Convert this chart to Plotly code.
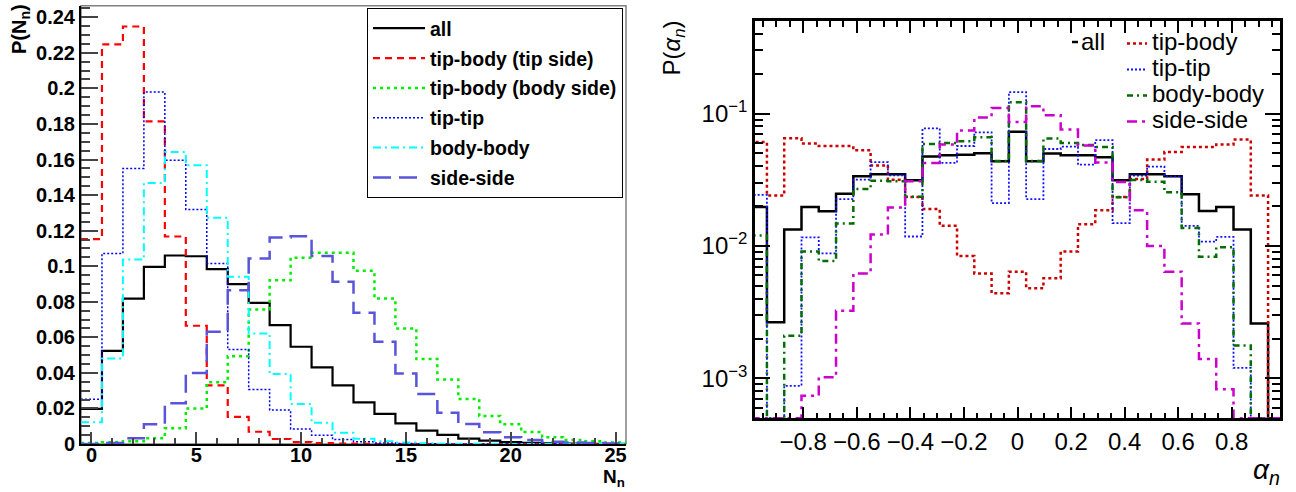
import numpy as np
import plotly.graph_objects as go

W, H = 1296, 492

# ---------------- left panel: P(N_n), one bin per integer N_n ----------------
n_values = list(range(26))
p_all = [0.0197, 0.0524, 0.0818, 0.0996, 0.1060, 0.1056, 0.0983, 0.0899, 0.0794, 0.0669,
         0.0547, 0.0431, 0.0330, 0.0234, 0.0169, 0.0116, 0.0075, 0.0051, 0.0030, 0.0019,
         0.0011, 0.0006, 0.0003, 0.0002, 0.0001, 0.0001]
p_tip_side = [0.1152, 0.2247, 0.2348, 0.1815, 0.1167, 0.0665, 0.0330, 0.0153, 0.0069, 0.0028,
              0.0011, 0.0005, 0.0002, 0.0001, 0.0, 0.0, 0.0, 0.0, 0.0, 0.0,
              0.0, 0.0, 0.0, 0.0, 0.0, 0.0]
p_body_side = [0.0005, 0.0010, 0.0015, 0.0032, 0.0088, 0.0200, 0.0347, 0.0494, 0.0757, 0.0921,
               0.1048, 0.1075, 0.1075, 0.0974, 0.0818, 0.0650, 0.0478, 0.0363, 0.0253, 0.0157,
               0.0111, 0.0067, 0.0038, 0.0022, 0.0015, 0.0008]
p_tip_tip = [0.0251, 0.1071, 0.1549, 0.1979, 0.1596, 0.1319, 0.1015, 0.0532, 0.0307, 0.0191,
             0.0084, 0.0049, 0.0025, 0.0012, 0.0006, 0.0003, 0.0001, 0.0, 0.0, 0.0,
             0.0, 0.0, 0.0, 0.0, 0.0, 0.0]
p_body_body = [0.0122, 0.0481, 0.1037, 0.1468, 0.1642, 0.1567, 0.1273, 0.0940, 0.0622, 0.0393,
               0.0225, 0.0120, 0.0063, 0.0030, 0.0015, 0.0008, 0.0004, 0.0002, 0.0001, 0.0,
               0.0, 0.0, 0.0, 0.0, 0.0, 0.0]
p_side_side = [0.0000, 0.0005, 0.0032, 0.0111, 0.0229, 0.0400, 0.0631, 0.0865, 0.1043, 0.1161,
               0.1169, 0.1058, 0.0912, 0.0738, 0.0575, 0.0397, 0.0281, 0.0176, 0.0112, 0.0066,
               0.0038, 0.0022, 0.0013, 0.0008, 0.0005, 0.0003]
n_ticks = [0, 5, 10, 15, 20, 25]
p_ticks = [0, 0.02, 0.04, 0.06, 0.08, 0.1, 0.12, 0.14, 0.16, 0.18, 0.2, 0.22, 0.24]
p_tick_text = ["0", "0.02", "0.04", "0.06", "0.08", "0.1", "0.12", "0.14", "0.16", "0.18",
               "0.2", "0.22", "0.24"]

# ---------------- right panel: P(alpha_n), 31 bins on [-1, 1] ----------------
alpha_nbins = 31
a_all = [0.0197, 0.00266, 0.0133, 0.0197, 0.0183, 0.0248, 0.0336, 0.0348, 0.0348, 0.0313,
         0.0475, 0.0484, 0.0488, 0.0501, 0.0437, 0.0730, 0.0437, 0.0499, 0.0485, 0.0484,
         0.0468, 0.0313, 0.0348, 0.0348, 0.0336, 0.0246, 0.0184, 0.0197, 0.0133, 0.0026, 0.0]
a_tip_body = [0.0610, 0.0241, 0.0650, 0.0593, 0.0569, 0.0569, 0.0528, 0.0406, 0.0316, 0.0234,
              0.0190, 0.0142, 0.0084, 0.0062, 0.0044, 0.0064, 0.0048, 0.0057, 0.0091, 0.0146,
              0.0186, 0.0234, 0.0320, 0.0449, 0.0513, 0.0560, 0.0560, 0.0583, 0.0636, 0.0241, 0.0]
a_tip_tip = [0.0243, 0.0, 0.00088, 0.0116, 0.0088, 0.0226, 0.0317, 0.0430, 0.0342, 0.0118,
             0.0772, 0.0424, 0.0569, 0.0722, 0.0211, 0.1450, 0.0226, 0.0540, 0.0562, 0.0411,
             0.0630, 0.0149, 0.0340, 0.0398, 0.0336, 0.0142, 0.0108, 0.0117, 0.0012, 0.0, 0.0]
a_body_body = [0.0120, 0.0, 0.0021, 0.0091, 0.0077, 0.0148, 0.0269, 0.0311, 0.0308, 0.0235,
               0.0590, 0.0600, 0.0618, 0.0662, 0.0438, 0.1218, 0.0438, 0.0648, 0.0600, 0.0580,
               0.0560, 0.0233, 0.0315, 0.0306, 0.0255, 0.0137, 0.0083, 0.0098, 0.00177, 0.0, 0.0]
a_side_side = [0.0, 0.0, 0.0, 0.00074, 0.00102, 0.00324, 0.0062, 0.0122, 0.0195, 0.0308,
               0.0424, 0.0584, 0.0744, 0.0933, 0.1100, 0.0864, 0.1136, 0.0970, 0.0757, 0.0575,
               0.0427, 0.0304, 0.0186, 0.0100, 0.0064, 0.0026, 0.0014, 0.00083, 0.0, 0.0, 0.0]
a_ticks = [-0.8, -0.6, -0.4, -0.2, 0, 0.2, 0.4, 0.6, 0.8]
a_tick_text = ["\u22120.8", "\u22120.6", "\u22120.4", "\u22120.2", "0", "0.2", "0.4", "0.6", "0.8"]
pa_ticks = [1e-3, 1e-2, 1e-1]
pa_tick_text = ["10<sup>\u22123</sup>", "10<sup>\u22122</sup>", "10<sup>\u22121</sup>"]
PA_MIN, PA_MAX = 5e-4, 0.5


def step_xy(edges, vals, floor=None):
    """Histogram outline: left edge of each bin, then the closing right edge."""
    v = np.asarray(vals, dtype=float)
    if floor is not None:
        v = np.maximum(v, floor)
    return list(edges), list(v) + [v[-1]]


def px_x(p):
    return p / W


def px_y(p):
    return 1 - p / H


FONT = "Liberation Sans"
fig = go.Figure()

# ---- left panel histograms
n_edges = np.arange(len(n_values) + 1) - 0.5
left_series = [
    ("all", p_all, dict(color="black", width=2.2)),
    ("tip-body (tip side)", p_tip_side, dict(color="#ff0000", width=2.2, dash="7px,5px")),
    ("tip-body (body side)", p_body_side, dict(color="#00ee00", width=2.5, dash="3px,4px")),
    ("tip-tip", p_tip_tip, dict(color="#0000ff", width=1.5, dash="2px,2px")),
    ("body-body", p_body_body, dict(color="#00ffff", width=2, dash="8px,4px,2px,4px")),
    ("side-side", p_side_side, dict(color="rgb(89,84,217)", width=2.5, dash="18px,8px")),
]
for name, vals, style in left_series:
    x, y = step_xy(n_edges, vals)
    fig.add_trace(go.Scatter(x=x, y=y, mode="lines", name=name, legendgroup=name,
                             line=dict(shape="hv", **style), xaxis="x", yaxis="y",
                             hoverinfo="skip"))

# ---- right panel histograms
a_edges = np.linspace(-1, 1, alpha_nbins + 1)
right_series = [
    ("all", a_all, dict(color="black", width=2.5)),
    ("tip-body", a_tip_body, dict(color="rgb(204,0,0)", width=2.5, dash="3px,3px")),
    ("tip-tip", a_tip_tip, dict(color="#1010ff", width=1.8, dash="2px,2px")),
    ("body-body", a_body_body, dict(color="rgb(0,110,0)", width=2.5, dash="6px,4px,2px,4px")),
    ("side-side", a_side_side, dict(color="rgb(204,0,204)", width=2.5, dash="10px,5px,3px,5px")),
]
for name, vals, style in right_series:
    x, y = step_xy(a_edges, vals, floor=PA_MIN)
    fig.add_trace(go.Scatter(x=x, y=y, mode="lines", name=name, showlegend=False,
                             line=dict(shape="hv", **style), xaxis="x2", yaxis="y2",
                             hoverinfo="skip"))

bold = dict(family=FONT, size=20, color="black", weight="bold")
plain = dict(family=FONT, size=24, color="black")

fig.update_layout(
    template="none",
    width=W, height=H, margin=dict(l=0, r=0, t=0, b=0, autoexpand=False),
    paper_bgcolor="white", plot_bgcolor="white",
    xaxis=dict(domain=[px_x(81), px_x(626)], range=[-0.5, 25.5], anchor="y", automargin=False,
               showline=True, linecolor="black", linewidth=2, showgrid=False, zeroline=False,
               ticks="inside", ticklen=12, tickwidth=1.5, tickcolor="#444",
               ticklabelstandoff=-8,
               tickvals=n_ticks, ticktext=[str(t) for t in n_ticks], tickfont=bold,
               minor=dict(dtick=1, tick0=0, ticks="inside", ticklen=6, tickwidth=1.5,
                          tickcolor="#444")),
    yaxis=dict(domain=[px_y(444), px_y(5.7)], range=[0, 0.2465], anchor="x", automargin=False,
               showline=True, linecolor="black", linewidth=2, showgrid=False, zeroline=False,
               ticks="inside", ticklen=17, tickwidth=1.5, tickcolor="#444",
               tickvals=p_ticks, ticktext=p_tick_text, tickfont=bold,
               minor=dict(dtick=0.005, tick0=0, ticks="inside", ticklen=9, tickwidth=1.5,
                          tickcolor="#444")),
    xaxis2=dict(domain=[px_x(755), px_x(1280)], range=[-0.98, 0.98], anchor="y2",
                automargin=False,
                showline=True, linecolor="black", linewidth=2.5, mirror="ticks",
                showgrid=False, zeroline=False,
                ticks="inside", ticklen=12, tickwidth=2, tickcolor="black",
                tickvals=a_ticks, ticktext=a_tick_text, tickfont=plain,
                minor=dict(dtick=0.05, tick0=0, ticks="inside", ticklen=6, tickwidth=2,
                           tickcolor="black")),
    yaxis2=dict(domain=[px_y(418.3), px_y(21)], type="log", automargin=False,
                range=[np.log10(PA_MIN), np.log10(PA_MAX)], anchor="x2",
                showline=True, linecolor="black", linewidth=2.5, mirror="ticks",
                showgrid=False, zeroline=False,
                ticks="inside", ticklen=15, tickwidth=2, tickcolor="black",
                tickvals=pa_ticks, ticktext=pa_tick_text, tickfont=plain,
                minor=dict(tickvals=[k * 10.0 ** e for e in (-4, -3, -2, -1) for k in range(2, 10)],
                           ticks="inside", ticklen=8, tickwidth=2, tickcolor="black")),
    legend=dict(x=px_x(367), y=px_y(8), xanchor="left", yanchor="top",
                bgcolor="white", bordercolor="black", borderwidth=1,
                font=dict(family=FONT, size=19.5, color="black", weight="bold"),
                tracegroupgap=1.5, traceorder="grouped", itemwidth=52),
)

# grey frame around the left panel (top and right edges)
shapes = [dict(type="rect", xref="x domain", yref="y domain", x0=0, x1=1, y0=0, y1=1,
               line=dict(color="#808080", width=1.5), layer="below")]

# right-panel key: short line samples next to the labels
key_rows = [
    ("tip-body", 41.5, 43.5, right_series[1][2]),
    ("tip-tip", 67.5, 69.5, right_series[2][2]),
    ("body-body", 93.5, 95.5, right_series[3][2]),
    ("side-side", 119.5, 121.5, right_series[4][2]),
]
annotations = []
for label, ty, ly, style in key_rows:
    shapes.append(dict(type="line", xref="paper", yref="paper",
                       x0=px_x(1127), x1=px_x(1147), y0=px_y(ly), y1=px_y(ly),
                       line=dict(color=style["color"], width=style["width"],
                                 dash=style.get("dash", "solid"))))
    annotations.append(dict(text=label, xref="paper", yref="paper", x=px_x(1150), y=px_y(ty),
                            xanchor="left", yanchor="middle", showarrow=False,
                            font=dict(family=FONT, size=24, color="black")))
shapes.append(dict(type="line", xref="paper", yref="paper",
                   x0=px_x(1072), x1=px_x(1078), y0=px_y(42), y1=px_y(42),
                   line=dict(color="black", width=2.5)))
annotations.append(dict(text="all", xref="paper", yref="paper", x=px_x(1079), y=px_y(41.5),
                        xanchor="left", yanchor="middle", showarrow=False,
                        font=dict(family=FONT, size=24, color="black")))

# axis titles
annotations += [
    dict(text="P(N<sub>n</sub>)", xref="paper", yref="paper", x=px_x(21), y=px_y(56),
         xanchor="center", yanchor="bottom", textangle=-90, showarrow=False, font=bold),
    dict(text="N<sub>n</sub>", xref="paper", yref="paper", x=px_x(627), y=px_y(491.5),
         xanchor="right", yanchor="bottom", showarrow=False,
         font=dict(family=FONT, size=19, color="black", weight="bold")),
    dict(text="P(<i>\u03b1</i><sub><i>n</i></sub>)", xref="paper", yref="paper",
         x=px_x(673), y=px_y(19), xanchor="center", yanchor="top", textangle=-90,
         showarrow=False, font=dict(family=FONT, size=24, color="black")),
    dict(text="<i>\u03b1</i><sub><i>n</i></sub>", xref="paper", yref="paper",
         x=px_x(1282), y=px_y(491), xanchor="right", yanchor="bottom", showarrow=False,
         font=dict(family=FONT, size=28, color="black")),
]

fig.update_layout(shapes=shapes, annotations=annotations)
fig.write_html("out.html")
